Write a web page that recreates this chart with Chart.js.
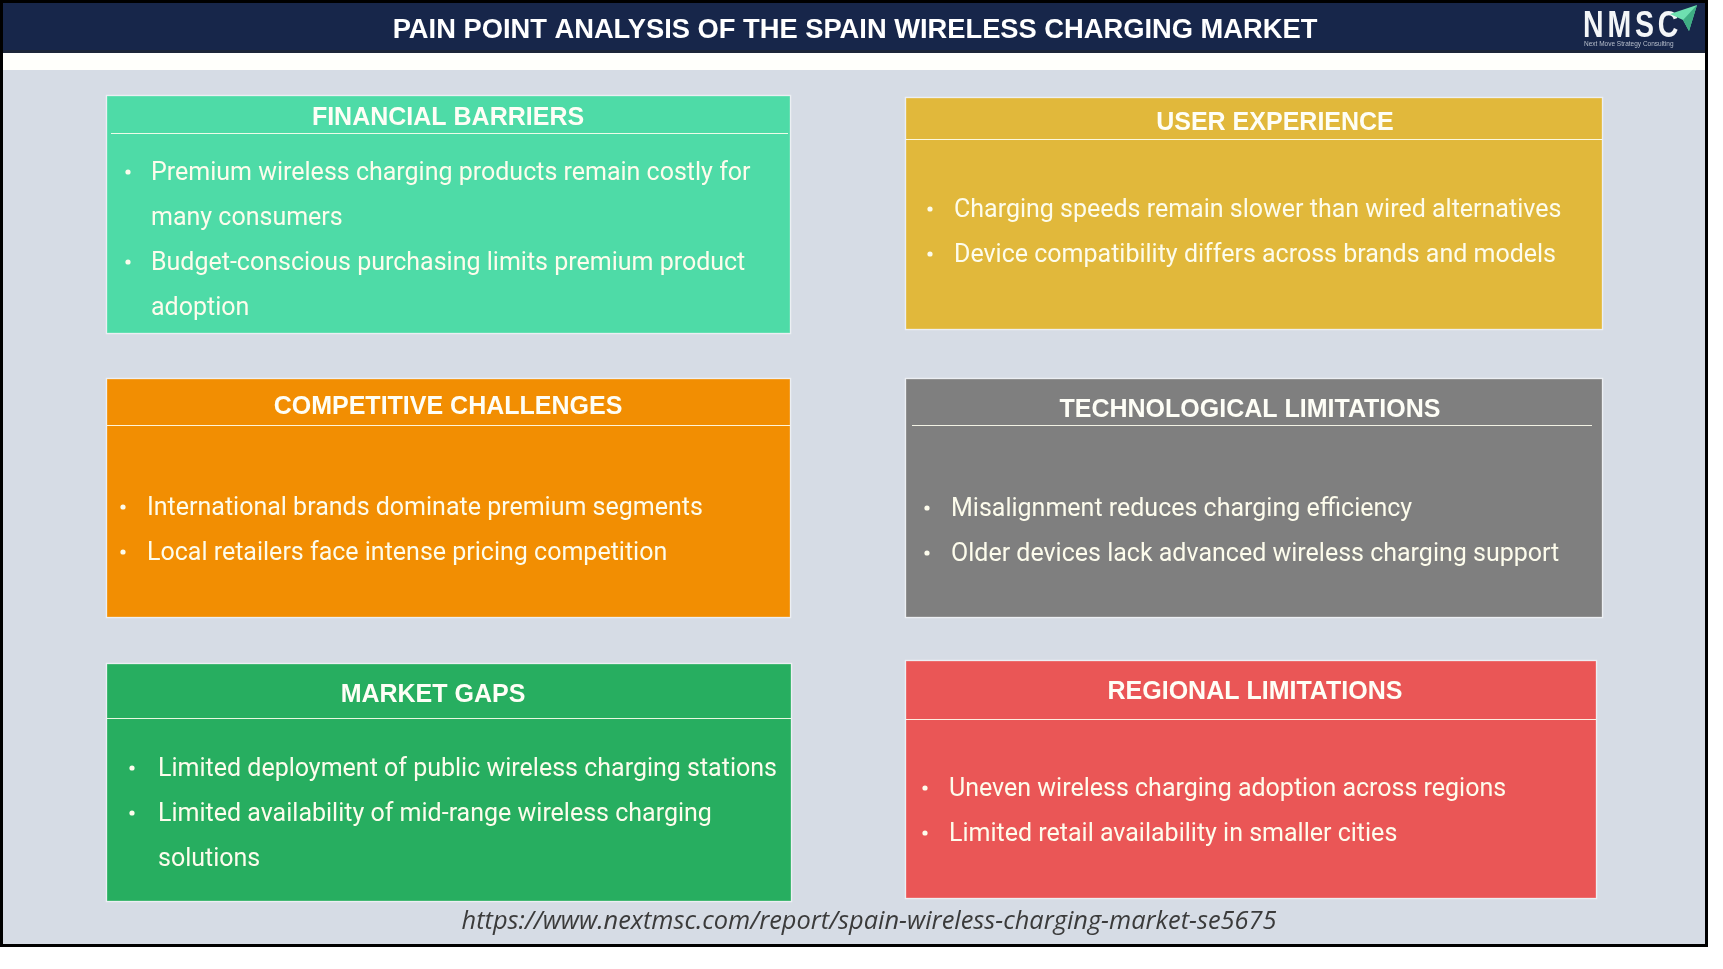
<!DOCTYPE html>
<html><head><meta charset="utf-8">
<script src="https://cdn.jsdelivr.net/npm/chart.js@4.4.1/dist/chart.umd.min.js"></script>
<style>html,body{margin:0;padding:0;background:#fff;overflow:hidden}#wrap{width:1723px;height:969px}</style>
</head><body><div id="wrap"><canvas id="c" width="1723" height="969"></canvas></div>
<script>
// ---------- content ----------
const chartTitle = "PAIN POINT ANALYSIS OF THE SPAIN WIRELESS CHARGING MARKET";
const sourceUrl = "https://www.nextmsc.com/report/spain-wireless-charging-market-se5675";
const brandName = "NMSC";
const brandTagline = "Next Move Strategy Consulting";
const categories = ["FINANCIAL BARRIERS", "USER EXPERIENCE", "COMPETITIVE CHALLENGES", "TECHNOLOGICAL LIMITATIONS", "MARKET GAPS", "REGIONAL LIMITATIONS"];
const financialPoints = ["Premium wireless charging products remain costly for many consumers", "Budget-conscious purchasing limits premium product adoption"];
const userPoints = ["Charging speeds remain slower than wired alternatives", "Device compatibility differs across brands and models"];
const competitivePoints = ["International brands dominate premium segments", "Local retailers face intense pricing competition"];
const technologicalPoints = ["Misalignment reduces charging efficiency", "Older devices lack advanced wireless charging support"];
const marketPoints = ["Limited deployment of public wireless charging stations", "Limited availability of mid-range wireless charging solutions"];
const regionalPoints = ["Uneven wireless charging adoption across regions", "Limited retail availability in smaller cities"];
const categoryPoints = [financialPoints, userPoints, competitivePoints, technologicalPoints, marketPoints, regionalPoints];
const categoryColors = ["#4edba7", "#e1b83b", "#f28e02", "#7f7f7f", "#27ae60", "#ea5656"];

// ---------- layout (positions in axis units) ----------
const frame = {x0: 0, y0: 0, x1: 1708, y1: 947};
const layout = [
  {x0:107, x1:790, y0:96,  y1:333, sep:133, sx0:111, sx1:788, tx:448,  ty:125, bx:128, tx2:151, b0:180},
  {x0:906, x1:1602,y0:98,  y1:329, sep:139, sx0:906, sx1:1602, tx:1275, ty:130, bx:930, tx2:954, b0:217},
  {x0:107, x1:790, y0:379, y1:617, sep:425, sx0:107, sx1:790, tx:448,  ty:414, bx:123, tx2:147, b0:515},
  {x0:906, x1:1602,y0:379, y1:617, sep:425, sx0:912, sx1:1592, tx:1250, ty:417, bx:927, tx2:951, b0:516},
  {x0:107, x1:791, y0:664, y1:901, sep:718, sx0:107, sx1:791, tx:433,  ty:702, bx:132, tx2:158, b0:776},
  {x0:906, x1:1596,y0:661, y1:898, sep:719, sx0:906, sx1:1596, tx:1255, ty:699, bx:925, tx2:949, b0:796}
];
const lineGap = 45;
const wrapWidth = 642;

const infographic = {
  id: 'infographic',
  beforeDraw(chart) {
    const ctx = chart.ctx;
    const X = v => chart.scales.x.getPixelForValue(v);
    const Y = v => chart.scales.y.getPixelForValue(v);
    ctx.save();
    // page
    ctx.fillStyle = '#ffffff';
    ctx.fillRect(0, 0, chart.width, chart.height);
    // frame
    ctx.fillStyle = '#000000';
    ctx.fillRect(X(frame.x0), Y(frame.y0), X(frame.x1) - X(frame.x0), Y(frame.y1) - Y(frame.y0));
    // header
    ctx.fillStyle = '#17264a';
    ctx.fillRect(X(3), Y(3), X(1705) - X(3), Y(51) - Y(3));
    ctx.fillStyle = '#1c2638';
    ctx.fillRect(X(3), Y(50), X(1705) - X(3), Y(53) - Y(50));
    ctx.fillStyle = '#fffffb';
    ctx.fillRect(X(3), Y(53), X(1705) - X(3), Y(70) - Y(53));
    ctx.fillStyle = '#d6dce5';
    ctx.fillRect(X(3), Y(70), X(1705) - X(3), Y(944) - Y(70));
    // title
    ctx.fillStyle = '#ffffff';
    ctx.font = 'bold 27.3px "Liberation Sans", Arial, sans-serif';
    ctx.textAlign = 'center';
    ctx.textBaseline = 'alphabetic';
    ctx.fillText(chartTitle, X(855), Y(38));
    // logo
    ctx.textAlign = 'left';
    ctx.save();
    ctx.translate(X(1583), Y(37));
    ctx.scale(0.95, 1.22);
    ctx.font = 'bold 30px "Liberation Sans", Arial, sans-serif';
    ctx.letterSpacing = '4px';
    ctx.fillStyle = '#f4f6f8';
    ctx.fillText(brandName, 0, 0);
    ctx.restore();
    ctx.letterSpacing = '0px';
    ctx.font = '6.5px "Liberation Sans", Arial, sans-serif';
    ctx.fillStyle = '#b8bfcc';
    ctx.fillText(brandTagline, X(1584), Y(46));
    ctx.fillStyle = '#6ee0b0';
    ctx.beginPath();
    ctx.moveTo(X(1670), Y(14)); ctx.lineTo(X(1697), Y(5)); ctx.lineTo(X(1689), Y(31)); ctx.lineTo(X(1683), Y(20));
    ctx.closePath(); ctx.fill();
    ctx.fillStyle = '#3fae84';
    ctx.beginPath();
    ctx.moveTo(X(1683), Y(20)); ctx.lineTo(X(1697), Y(5)); ctx.lineTo(X(1689), Y(31));
    ctx.closePath(); ctx.fill();

    // boxes
    categories.forEach((cat, i) => {
      const L = layout[i];
      ctx.fillStyle = categoryColors[i];
      ctx.fillRect(X(L.x0), Y(L.y0), X(L.x1) - X(L.x0), Y(L.y1) - Y(L.y0));
      ctx.strokeStyle = 'rgba(255,255,255,0.55)';
      ctx.lineWidth = 1.5;
      ctx.strokeRect(X(L.x0) - 0.5, Y(L.y0) - 0.5, X(L.x1) - X(L.x0) + 1, Y(L.y1) - Y(L.y0) + 1);
      // separator
      ctx.strokeStyle = 'rgba(255,255,240,0.9)';
      ctx.lineWidth = 1.2;
      ctx.beginPath();
      ctx.moveTo(X(L.sx0), Y(L.sep) + 0.5); ctx.lineTo(X(L.sx1), Y(L.sep) + 0.5);
      ctx.stroke();
      // title
      ctx.fillStyle = '#fefef6';
      ctx.font = 'bold 25px "Liberation Sans", Arial, sans-serif';
      ctx.textAlign = 'center';
      ctx.fillText(cat, X(L.tx), Y(L.ty));
      // bullets
      ctx.textAlign = 'left';
      ctx.font = '25px Roboto, sans-serif';
      ctx.fillStyle = '#fdfcec';
      let line = 0;
      categoryPoints[i].forEach(pt => {
        const words = pt.split(' ');
        const lines = [];
        let cur = '';
        words.forEach(w => {
          const t = cur ? cur + ' ' + w : w;
          if (ctx.measureText(t).width > wrapWidth && cur) { lines.push(cur); cur = w; } else cur = t;
        });
        lines.push(cur);
        const by = L.b0 + line * lineGap;
        ctx.beginPath();
        ctx.arc(X(L.bx), Y(by - 8), 2.6, 0, Math.PI * 2);
        ctx.fill();
        lines.forEach((ln, k) => {
          ctx.fillText(ln, X(L.tx2), Y(L.b0 + (line + k) * lineGap));
        });
        line += lines.length;
      });
    });

    // source url
    ctx.fillStyle = '#3b3b3b';
    ctx.font = 'italic 25.4px "Open Sans", sans-serif';
    ctx.textAlign = 'center';
    ctx.fillText(sourceUrl, X(869), Y(929));
    ctx.restore();
  }
};

new Chart(document.getElementById('c'), {
  type: 'scatter',
  data: {datasets: [{data: [], showLine: false}]},
  options: {
    responsive: false,
    animation: false,
    devicePixelRatio: 1,
    layout: {padding: 0},
    plugins: {legend: {display: false}, tooltip: {enabled: false}},
    scales: {
      x: {type: 'linear', min: 0, max: 1723, display: false},
      y: {type: 'linear', min: 0, max: 969, reverse: true, display: false}
    }
  },
  plugins: [infographic]
});
</script>
</body></html>
